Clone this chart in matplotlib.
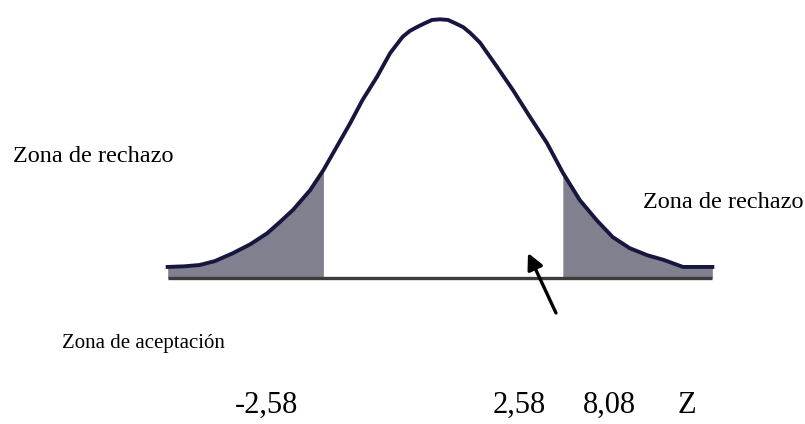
import matplotlib
matplotlib.use('Agg')
from matplotlib import pyplot as plt

# curve: z value and height (density-like units)
curve_z = [-3.06, -2.87, -2.70, -2.53, -2.33, -2.13, -1.94, -1.80, -1.65, -1.46,
           -1.31, -1.16, -1.01, -0.87, -0.71, -0.56, -0.42, -0.34, -0.26, -0.17,
           -0.09, 0.00, 0.09, 0.17, 0.26, 0.34, 0.45, 0.64, 0.82, 1.01,
           1.20, 1.38, 1.57, 1.76, 1.94, 2.13, 2.33, 2.51, 2.73, 2.92, 3.06]
curve_h = [0.017, 0.018, 0.020, 0.026, 0.038, 0.052, 0.069, 0.086, 0.105, 0.135,
           0.166, 0.202, 0.238, 0.274, 0.309, 0.346, 0.371, 0.380, 0.386, 0.392,
           0.397, 0.398, 0.397, 0.392, 0.386, 0.377, 0.362, 0.325, 0.289, 0.248,
           0.208, 0.162, 0.120, 0.089, 0.063, 0.046, 0.035, 0.028, 0.017, 0.017, 0.017]
left_cut = -1.31
right_cut = 1.38

labels_z = ['-2,58', '2,58', '8,08', 'Z']

W, H = 805, 424
PX_PER_Z = 89.0
PX_PER_H = 650.0
X0, Y0 = 440.0, 278.0   # pixel of z=0 on the baseline

fig = plt.figure(figsize=(W / 100, H / 100), dpi=100)
ax = fig.add_axes([0, 0, 1, 1])
ax.set_xlim(-X0 / PX_PER_Z, (W - X0) / PX_PER_Z)
ax.set_ylim(-(H - Y0) / PX_PER_H, Y0 / PX_PER_H)
ax.axis('off')

shade = '#80808f'
left_z = [z for z in curve_z if z <= left_cut]
left_h = [h for z, h in zip(curve_z, curve_h) if z <= left_cut]
right_z = [z for z in curve_z if z >= right_cut]
right_h = [h for z, h in zip(curve_z, curve_h) if z >= right_cut]
ax.fill_between(left_z, left_h, 0, color=shade, lw=0)
ax.fill_between(right_z, right_h, 0, color=shade, lw=0)

ax.plot([curve_z[0], curve_z[-1]], [0, 0], color='#3c3c3c', lw=2.4, solid_capstyle='butt')
ax.plot(curve_z, curve_h, color='#16163e', lw=2.8, solid_joinstyle='round')


def px(x, y):
    return x / W, 1 - y / H


serif = 'Liberation Serif'
fig.text(*px(13, 162), 'Zona de rechazo', family=serif, fontsize=17.5, va='baseline')
fig.text(*px(643, 208), 'Zona de rechazo', family=serif, fontsize=17.5, va='baseline')
fig.text(*px(62, 348), 'Zona de aceptación', family=serif, fontsize=15, va='baseline')

label_left = [235, 493, 583, 678]
for lab, xl in zip(labels_z, label_left):
    fig.text(*px(xl, 413), lab, family=serif, fontsize=22, va='baseline')

# arrow pointing to the acceptance zone
ax.annotate('', xy=((528 - X0) / PX_PER_Z, (Y0 - 253) / PX_PER_H),
            xytext=((556 - X0) / PX_PER_Z, (Y0 - 313) / PX_PER_H),
            arrowprops=dict(arrowstyle='-|>', color='black', lw=2.4,
                            mutation_scale=24, shrinkA=0, shrinkB=0))

plt.savefig('out.png', dpi=100, facecolor='white')
